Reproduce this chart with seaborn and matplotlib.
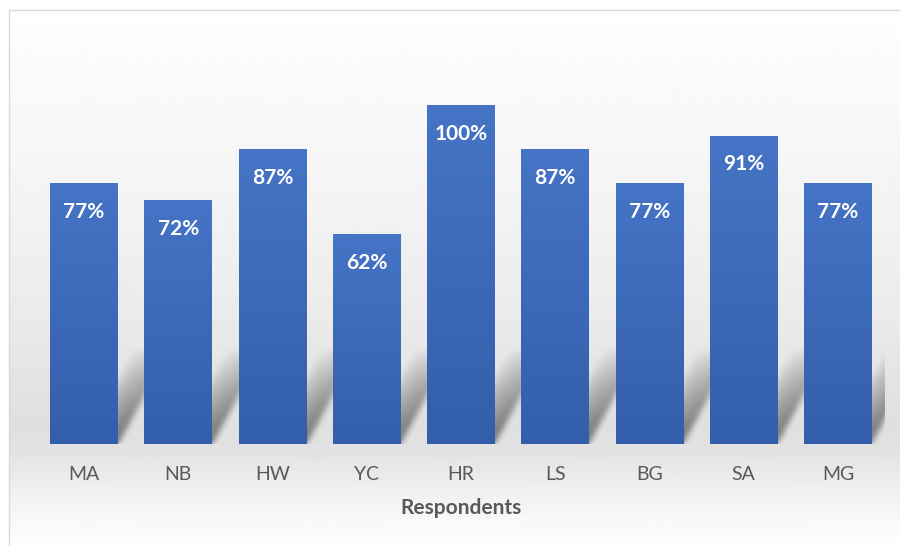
import numpy as np
import matplotlib
matplotlib.use("Agg")
import matplotlib.pyplot as plt
import seaborn as sns

respondents = ["MA", "NB", "HW", "YC", "HR", "LS", "BG", "SA", "MG"]
scores = [77, 72, 87, 62, 100, 87, 77, 91, 77]

BAR_TOP = "#4674C6"
BAR_BOTTOM = "#335EAB"
TEXT_GREY = "#595959"

sns.set_theme(style="white")
plt.rcParams["font.family"] = ["Lato", "DejaVu Sans"]

fig = plt.figure(figsize=(9, 5.46), dpi=100)

# chart area background: soft vertical grey gradient inside a thin frame
bg = fig.add_axes([9 / 900, 0, 891 / 900, 536 / 546], zorder=-5)
py = np.array([10, 60, 200, 330, 420, 450, 490, 546])
val = np.array([1.0, 0.985, 0.955, 0.915, 0.875, 0.885, 0.94, 1.0])
rows = np.interp(np.arange(10, 546), py, val)
grad = np.repeat(rows[:, None], 2, axis=1)
bg.imshow(grad, cmap="gray", vmin=0, vmax=1, aspect="auto",
          extent=[0, 1, 0, 1], interpolation="bilinear")
bg.set_xlim(0, 1)
bg.set_ylim(0, 1)
bg.set_xticks([])
bg.set_yticks([])
for side, sp in bg.spines.items():
    sp.set_color("#d9d9d9")
    sp.set_linewidth(1.0)
    if side in ("right", "bottom"):
        sp.set_visible(False)

ax = fig.add_axes([37 / 900, 102 / 546, 848 / 900, 339 / 546])
ax.patch.set_alpha(0)

sns.barplot(x=respondents, y=scores, color=BAR_TOP, width=0.72,
            saturation=1, linewidth=0, ax=ax, zorder=3)

# soft diagonal shadows: a blurred band along the right edge of each
# bar's silhouette, skewed up and to the right, fading with height
sx = np.linspace(-0.5, len(respondents), 1000)
sy = np.linspace(0, 36, 240)
X, Y = np.meshgrid(sx, sy)
sh_h, sh_dx, band = 28.0, 0.55, 0.38
mask = np.zeros_like(X)
for p in ax.patches:
    x0, w = p.get_x(), p.get_width()
    edge = x0 + w + sh_dx * Y / sh_h
    d = edge - X
    inside = (d >= 0) & (d <= band) & (Y <= sh_h)
    fade = np.clip(1 - Y / sh_h, 0, 1) ** 0.6
    mask = np.maximum(mask, inside * fade * np.clip(1 - d / band, 0, 1) ** 0.4)
k = np.hanning(19)
k /= k.sum()
mask = np.apply_along_axis(lambda r: np.convolve(r, k, mode="same"), 1, mask)
k2 = np.hanning(21)
k2 /= k2.sum()
mask = np.apply_along_axis(lambda c: np.convolve(c, k2, mode="same"), 0, mask)
shadow = np.zeros(mask.shape + (4,))
shadow[..., 3] = mask * 0.5
ax.imshow(shadow, extent=[sx[0], sx[-1], sy[0], sy[-1]], origin="lower",
          aspect="auto", zorder=1, interpolation="bilinear")

# vertical gradient fill on each bar
cmap = matplotlib.colors.LinearSegmentedColormap.from_list("bar", [BAR_BOTTOM, BAR_TOP])
g = np.linspace(0, 1, 256)[:, None]
for p in ax.patches:
    x0, w, h = p.get_x(), p.get_width(), p.get_height()
    im = ax.imshow(g, cmap=cmap, extent=[x0, x0 + w, 0, h], origin="lower",
                   aspect="auto", zorder=4)
    im.set_clip_path(p)

for i, v in enumerate(scores):
    ax.text(i, v - 8.5, f"{v}%", ha="center", va="center", color="white",
            fontsize=15, fontweight="bold", zorder=5)

ax.set_xlim(-0.5, len(respondents) - 0.5)
ax.set_ylim(0, 100)
ax.set_yticks([])
ax.tick_params(axis="x", length=0, pad=16, labelsize=14, labelcolor=TEXT_GREY)
ax.set_xlabel("Respondents", fontsize=15, fontweight="bold", color=TEXT_GREY,
              labelpad=11)
ax.set_ylabel("")
sns.despine(ax=ax, left=True, bottom=True)

fig.savefig("out.png", dpi=100)
